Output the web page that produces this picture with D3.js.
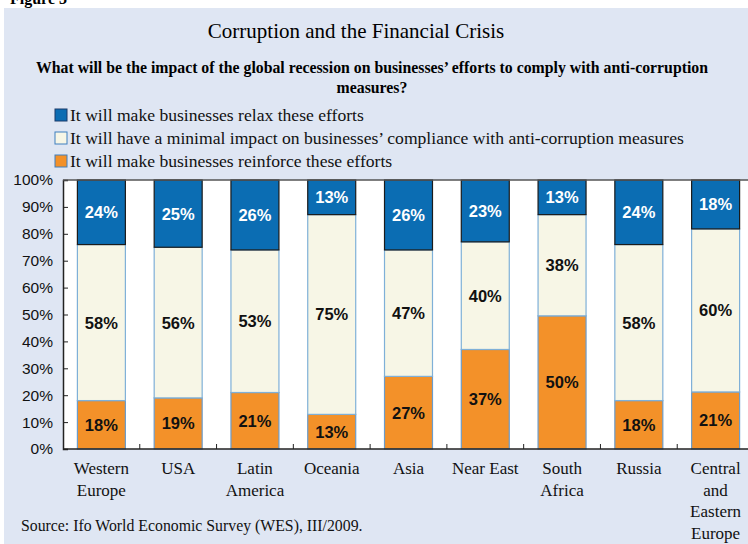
<!DOCTYPE html>
<html>
<head>
<meta charset="utf-8">
<script src="https://cdn.jsdelivr.net/npm/d3@7"></script>
<style>
  body { margin: 0; background: #fff; }
  svg { display: block; }
</style>
</head>
<body>
<div id="chart"></div>
<script>
var regions = [
  ['Western', 'Europe'],
  ['USA'],
  ['Latin', 'America'],
  ['Oceania'],
  ['Asia'],
  ['Near East'],
  ['South', 'Africa'],
  ['Russia'],
  ['Central', 'and', 'Eastern', 'Europe']
]
var reinforce = [18, 19, 21, 13, 27, 37, 50, 18, 21]
var minimal = [58, 56, 53, 75, 47, 40, 38, 58, 60]
var relax = [24, 25, 26, 13, 26, 23, 13, 24, 18]
var yTicks = [0, 10, 20, 30, 40, 50, 60, 70, 80, 90, 100]

var legendLabels = [
  'It will make businesses relax these efforts',
  'It will have a minimal impact on businesses\u2019 compliance with anti-corruption measures',
  'It will make businesses reinforce these efforts'
]

var width = 748, height = 544
var serif = '"Liberation Serif", "Times New Roman", serif'
var sans = '"Liberation Sans", Arial, sans-serif'

var svg = d3.select('#chart').append('svg')
  .attr('width', width)
  .attr('height', height)

// "Figure" heading, mostly cut off at the top like the original scan
svg.append('text')
  .attr('x', 10).attr('y', 4)
  .style('font-family', serif).style('font-weight', 'bold').style('font-size', '16px')
  .text('Figure 3')

svg.append('rect')
  .attr('x', 4).attr('y', 8)
  .attr('width', width - 4).attr('height', height - 8)
  .attr('fill', '#dfe6f3')

svg.append('text')
  .attr('x', 356).attr('y', 38)
  .attr('text-anchor', 'middle')
  .style('font-family', serif).style('font-size', '21px')
  .text('Corruption and the Financial Crisis')

var sub = svg.append('text')
  .attr('text-anchor', 'middle')
  .style('font-family', serif).style('font-size', '15.8px').style('font-weight', 'bold')
sub.append('tspan').attr('x', 372).attr('y', 73)
  .text('What will be the impact of the global recession on businesses\u2019 efforts to comply with anti-corruption')
sub.append('tspan').attr('x', 372).attr('y', 93).text('measures?')

var colors = ['#0b6db3', '#f7f6e6', '#f39129']
var strokes = ['#1b1b1b', '#7fb0d8', '#6b9ccb']

var legend = svg.selectAll('.legend')
  .data(legendLabels)
  .enter().append('g')
  .attr('class', 'legend')
  .attr('transform', function (d, i) { return 'translate(55,' + (109 + i * 23) + ')' })

legend.append('rect')
  .attr('width', 12).attr('height', 12)
  .attr('fill', function (d, i) { return colors[i] })
  .attr('stroke', function (d, i) { return i === 0 ? '#1b3b6b' : '#3f7fbf' })
  .attr('stroke-width', 1)

legend.append('text')
  .attr('x', 15).attr('y', 12)
  .style('font-family', serif).style('font-size', '17.6px')
  .attr('fill', '#111')
  .text(function (d) { return d })

var margin = { left: 63, top: 180, bottom: 449 }
var plotRight = 754

var x = d3.scaleBand()
  .domain(d3.range(regions.length))
  .range([margin.left, plotRight])
  .paddingInner(0.375)
  .paddingOuter(0.1875)

var y = d3.scaleLinear().domain([0, 100]).range([margin.bottom, margin.top])

svg.append('rect')
  .attr('x', margin.left).attr('y', margin.top)
  .attr('width', plotRight - margin.left).attr('height', margin.bottom - margin.top)
  .attr('fill', '#fff')

var rows = regions.map(function (r, i) {
  return { i: i, reinforce: reinforce[i], minimal: minimal[i], relax: relax[i] }
})
var keys = ['reinforce', 'minimal', 'relax']
var stack = d3.stack().keys(keys).offset(d3.stackOffsetExpand)
var series = stack(rows)

var layerColor = { reinforce: colors[2], minimal: colors[1], relax: colors[0] }
var layerStroke = { reinforce: strokes[2], minimal: strokes[1], relax: strokes[0] }

var layers = svg.selectAll('.layer')
  .data(series)
  .enter().append('g')
  .attr('class', 'layer')

layers.selectAll('rect')
  .data(function (s) { return s.map(function (d) { return { key: s.key, d: d } }) })
  .enter().append('rect')
  .attr('x', function (p) { return x(p.d.data.i) })
  .attr('width', x.bandwidth())
  .attr('y', function (p) { return y(p.d[1] * 100) })
  .attr('height', function (p) { return y(p.d[0] * 100) - y(p.d[1] * 100) })
  .attr('fill', function (p) { return layerColor[p.key] })
  .attr('stroke', function (p) { return layerStroke[p.key] })
  .attr('stroke-width', 1.2)

// relax layer drawn last so its dark border sits on top
layers.filter(function (s) { return s.key === 'relax' }).raise()

layers.selectAll('.val')
  .data(function (s) { return s.map(function (d) { return { key: s.key, d: d } }) })
  .enter().append('text')
  .attr('class', 'val')
  .attr('x', function (p) { return x(p.d.data.i) + x.bandwidth() / 2 })
  .attr('y', function (p) { return y((p.d[0] + p.d[1]) * 50) })
  .attr('dy', '0.36em')
  .attr('text-anchor', 'middle')
  .style('font-family', sans).style('font-weight', 'bold').style('font-size', '16.5px')
  .attr('fill', function (p) { return p.key === 'relax' ? '#fff' : '#111' })
  .text(function (p) { return p.d.data[p.key] + '%' })

// y axis
var yAxis = svg.append('g')
  .attr('transform', 'translate(' + margin.left + ',0)')
  .call(d3.axisRight(y).tickValues(yTicks).tickSize(5).tickFormat(function (d) { return d + '%' }))
yAxis.select('.domain').attr('stroke', '#222').attr('stroke-width', 1.5)
yAxis.selectAll('.tick line').attr('stroke', '#222')
yAxis.selectAll('.tick text')
  .attr('x', -10).attr('text-anchor', 'end')
  .style('font-family', sans).style('font-size', '15.5px').attr('fill', '#111')

// top frame line
svg.append('line')
  .attr('x1', margin.left).attr('x2', plotRight)
  .attr('y1', margin.top).attr('y2', margin.top)
  .attr('stroke', '#555').attr('stroke-width', 1.5)

// x axis with ticks at band boundaries
var bounds = d3.range(1, regions.length).map(function (i) { return x(i) - x.step() * x.paddingInner() / 2 })
svg.append('line')
  .attr('x1', margin.left).attr('x2', plotRight)
  .attr('y1', margin.bottom).attr('y2', margin.bottom)
  .attr('stroke', '#222').attr('stroke-width', 1.5)
svg.selectAll('.xtick')
  .data(bounds)
  .enter().append('line')
  .attr('x1', function (d) { return d }).attr('x2', function (d) { return d })
  .attr('y1', margin.bottom).attr('y2', margin.bottom - 5)
  .attr('stroke', '#222')

var xl = svg.selectAll('.xlab')
  .data(regions)
  .enter().append('text')
  .attr('text-anchor', 'middle')
  .style('font-family', serif).style('font-size', '17px').attr('fill', '#111')
xl.each(function (lines, i) {
  var t = d3.select(this)
  lines.forEach(function (l, j) {
    t.append('tspan')
      .attr('x', x(i) + x.bandwidth() / 2)
      .attr('y', 474 + j * 21.5)
      .text(l)
  })
})

svg.append('text')
  .attr('x', 21).attr('y', 531)
  .style('font-family', serif).style('font-size', '15.8px').attr('fill', '#111')
  .text('Source: Ifo World Economic Survey (WES), III/2009.')
</script>
</body>
</html>
